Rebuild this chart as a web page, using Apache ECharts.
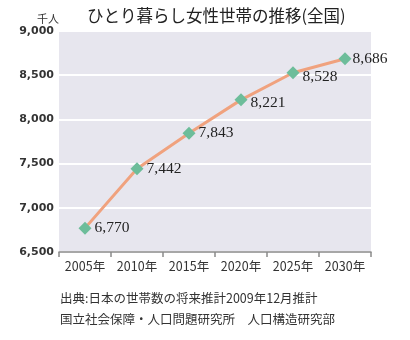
<!DOCTYPE html>
<html>
<head>
<meta charset="utf-8">
<script src="https://cdn.jsdelivr.net/npm/echarts@6/dist/echarts.min.js"></script>
<style>
html,body{margin:0;padding:0;background:#fff;}
#chart{width:410px;height:340px;}
</style>
</head>
<body>
<div id="chart"></div>
<script>
// Single women's households, projected (thousands)
const years = ['2005年', '2010年', '2015年', '2020年', '2025年', '2030年'];
const households = [6770, 7442, 7843, 8221, 8528, 8686];
const yTicks = [6500, 7000, 7500, 8000, 8500, 9000];
const sourceLines = [
  '出典:日本の世帯数の将来推計2009年12月推計',
  '国立社会保障・人口問題研究所　人口構造研究部'
];

const labelNudge = [[0, 0], [0, 0], [0, 0], [0, 3], [0, 4], [-2, 0]];

const chart = echarts.init(document.getElementById('chart'));
chart.setOption({
  animation: false,
  backgroundColor: '#fff',
  title: [{
    text: 'ひとり暮らし女性世帯の推移(全国)',
    left: 82, top: 2,
    textStyle: { fontFamily: 'Noto Sans CJK JP', fontSize: 16.5, fontWeight: 'normal', color: '#222' }
  }, {
    text: '千人',
    left: 32, top: 8,
    textStyle: { fontFamily: 'Noto Sans CJK JP', fontSize: 11, fontWeight: 'normal', color: '#333' }
  }],
  graphic: sourceLines.map((t, i) => ({
    type: 'text', left: 60, top: 292 + i * 21,
    style: { text: t, fontFamily: 'Noto Sans CJK JP', fontSize: 12.5, fill: '#333' }
  })),
  grid: {
    left: 59, right: 39, top: 31, bottom: 88,
    show: true, backgroundColor: '#e7e6ee', borderWidth: 0
  },
  xAxis: {
    type: 'category', data: years, boundaryGap: true,
    axisLine: { lineStyle: { color: '#8a8a8a', width: 1.5 } },
    axisTick: { show: true, length: 5, lineStyle: { color: '#8a8a8a', width: 1.5 } },
    axisLabel: { interval: 0, fontFamily: 'Noto Sans CJK JP', fontSize: 12.5, color: '#333', margin: 8 }
  },
  yAxis: {
    type: 'value', min: yTicks[0], max: yTicks[yTicks.length - 1], interval: 500,
    axisLine: { show: false }, axisTick: { show: false },
    splitLine: { lineStyle: { color: '#ffffff', width: 2 } },
    axisLabel: {
      fontFamily: 'DejaVu Sans', fontSize: 11, fontWeight: 'bold', color: '#333', margin: 5,
      formatter: v => v.toLocaleString('en-US')
    }
  },
  series: [{
    type: 'line',
    data: households.map((v, i) => ({
      value: v,
      label: { offset: labelNudge[i] }
    })),
    symbol: 'diamond', symbolSize: 13,
    itemStyle: { color: '#6dbd9a' },
    lineStyle: { color: '#f0a27e', width: 3 },
    z: 3,
    label: {
      show: true, position: 'right', distance: 3,
      fontFamily: 'Liberation Serif', fontSize: 15.5, color: '#222',
      formatter: p => p.value.toLocaleString('en-US')
    }
  }]
});
</script>
</body>
</html>
